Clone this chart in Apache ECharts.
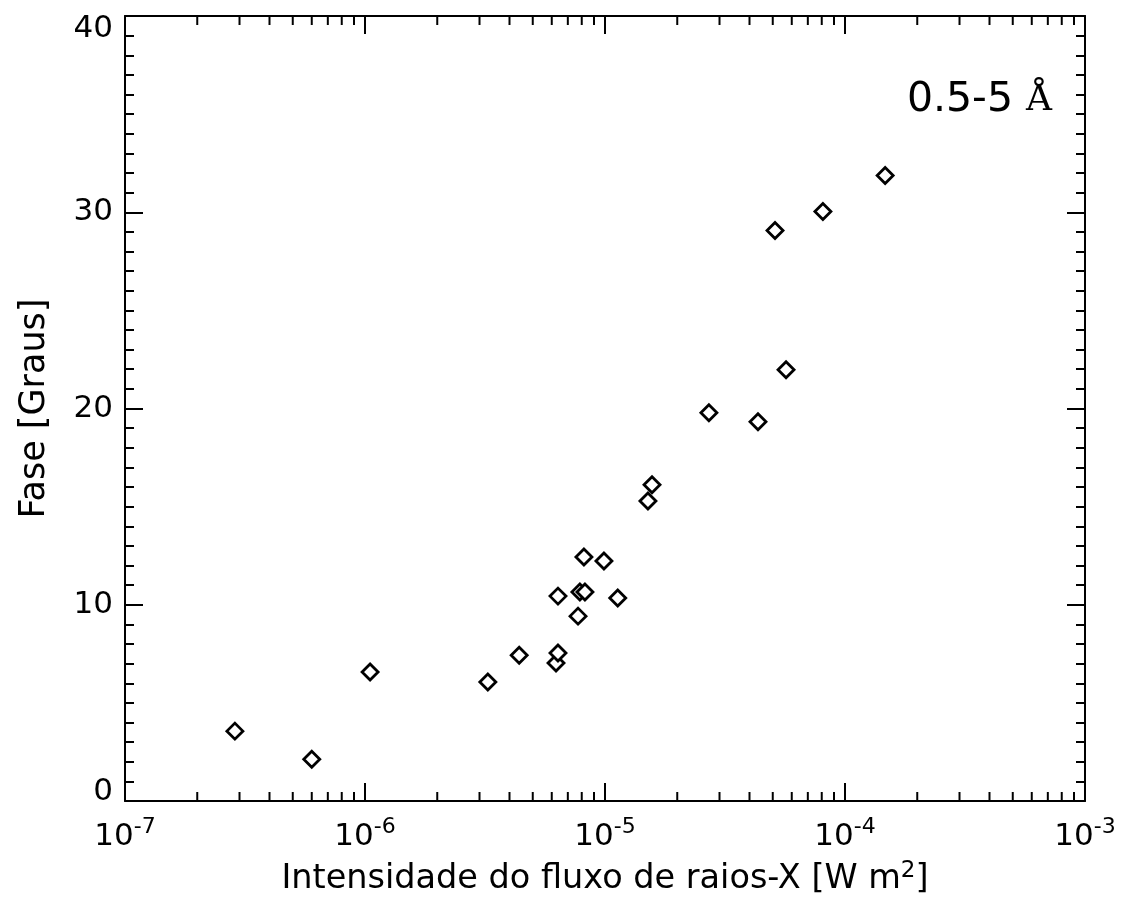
<!DOCTYPE html>
<html>
<head>
<meta charset="utf-8">
<script src="https://cdn.jsdelivr.net/npm/echarts@6/dist/echarts.min.js"></script>
<style>html,body{margin:0;padding:0;background:#fff;}#c{width:1125px;height:897px;}</style>
</head>
<body>
<div id="c"></div>
<script>
// Data (x: W m^-2, y: degrees)
const fluxValues = [2.87e-7, 6.0e-7, 1.05e-6, 3.25e-6, 4.39e-6, 6.25e-6, 6.37e-6, 6.37e-6, 7.72e-6, 7.86e-6, 8.25e-6, 8.17e-6, 9.9e-6, 1.13e-5, 1.51e-5, 1.57e-5, 2.71e-5, 4.34e-5, 5.68e-5, 5.11e-5, 8.09e-5, 1.47e-4];
const phaseValues = [3.56, 2.13, 6.57, 6.06, 7.43, 7.03, 7.54, 10.44, 9.42, 10.65, 10.65, 12.43, 12.23, 10.34, 15.29, 16.11, 19.78, 19.32, 21.97, 29.07, 30.04, 31.87];
const xDecades = [-7, -6, -5, -4, -3];
const yTicks = [0, 10, 20, 30, 40];
const xTitle = 'Intensidade do fluxo de raios-X [W m';
const xTitleSup = '2';
const yTitle = 'Fase [Graus]';
const bandLabel = '0.5-5';
const bandUnit = 'Å';

const xMin = Math.pow(10, xDecades[0]);
const xMax = Math.pow(10, xDecades[xDecades.length - 1]);
const yMin = yTicks[0], yMax = yTicks[yTicks.length - 1];

// minor tick values 2..9 per decade
const minorX = [];
for (let i = 0; i < xDecades.length - 1; i++) {
  for (let k = 2; k <= 9; k++) minorX.push([k * Math.pow(10, xDecades[i]), yMin]);
}

const INK = '#000';
const FONT = 'DejaVu Sans';
const lineStyle = { color: INK, width: 2 };

const xLabel = {
  formatter: function (v) { return '{b|10}{s|' + Math.round(Math.log10(v)) + '}'; },
  margin: 15,
  rich: {
    b: { fontFamily: FONT, fontSize: 31, color: INK },
    s: { fontFamily: FONT, fontSize: 22, color: INK, padding: [0, 0, 20, 0] }
  }
};

const chart = echarts.init(document.getElementById('c'), null, { renderer: 'canvas' });
chart.setOption({
  backgroundColor: '#fff',
  animation: false,
  title: {
    text: '{a|' + bandLabel + ' }{b|' + bandUnit + '}',
    right: 68, top: 75,
    textStyle: {
      fontWeight: 'normal',
      rich: {
        a: { fontFamily: FONT, fontSize: 41, fontWeight: 'normal', color: INK },
        b: { fontFamily: 'DejaVu Serif', fontSize: 36, fontWeight: 'normal', color: INK }
      }
    }
  },
  grid: { left: 125, right: 40, top: 16, bottom: 96, outerBoundsMode: 'none', containLabel: false },
  xAxis: [{
    type: 'log', logBase: 10, min: xMin, max: xMax, position: 'bottom',
    axisLine: { show: true, onZero: false, lineStyle: lineStyle },
    axisTick: { show: true, inside: true, length: 18, lineStyle: lineStyle },
    axisLabel: xLabel,
    splitLine: { show: false },
    name: '{t|' + xTitle + '}{s|' + xTitleSup + '}{t|]}',
    nameLocation: 'middle', nameGap: 59,
    nameTextStyle: {
      rich: {
        t: { fontFamily: FONT, fontSize: 33.5, color: INK },
        s: { fontFamily: FONT, fontSize: 23, color: INK, padding: [0, 0, 15, 0] }
      }
    }
  }, {
    type: 'log', logBase: 10, min: xMin, max: xMax, position: 'top',
    axisLine: { show: true, onZero: false, lineStyle: lineStyle },
    axisTick: { show: true, inside: true, length: 18, lineStyle: lineStyle },
    axisLabel: { show: false },
    splitLine: { show: false }
  }],
  yAxis: [{
    type: 'value', min: yMin, max: yMax, interval: 10, position: 'left',
    axisLine: { show: true, onZero: false, lineStyle: lineStyle },
    axisTick: { show: true, inside: true, length: 18, lineStyle: lineStyle },
    minorTick: { show: true, splitNumber: 10, length: 9, lineStyle: lineStyle },
    axisLabel: {
      fontFamily: FONT, fontSize: 31, color: INK, margin: 12,
      verticalAlignMaxLabel: 'top', verticalAlignMinLabel: 'bottom',
      formatter: function (v) {
        if (v === yMax) return '{hi|' + v + '}';
        if (v === yMin) return '{lo|' + v + '}';
        return String(v);
      },
      rich: {
        hi: { fontFamily: FONT, fontSize: 31, color: INK, lineHeight: 26 },
        lo: { fontFamily: FONT, fontSize: 31, color: INK, lineHeight: 18 }
      }
    },
    splitLine: { show: false },
    name: yTitle, nameLocation: 'middle', nameGap: 73,
    nameTextStyle: { fontFamily: FONT, fontSize: 35, color: INK }
  }, {
    type: 'value', min: yMin, max: yMax, interval: 10, position: 'right',
    axisLine: { show: true, onZero: false, lineStyle: lineStyle },
    axisTick: { show: true, inside: true, length: 18, lineStyle: lineStyle },
    minorTick: { show: true, splitNumber: 10, length: 9, lineStyle: lineStyle },
    axisLabel: { show: false },
    splitLine: { show: false }
  }],
  series: [{
    type: 'scatter',
    xAxisIndex: 0, yAxisIndex: 0,
    symbol: 'diamond', symbolSize: 16,
    itemStyle: { color: '#fff', borderColor: INK, borderWidth: 2.8, opacity: 1 },
    data: fluxValues.map((x, i) => [x, phaseValues[i]]),
    z: 5
  }, {
    type: 'custom',
    xAxisIndex: 0, yAxisIndex: 0,
    silent: true, clip: false,
    data: minorX,
    renderItem: function (params, api) {
      const v = api.value(0);
      const b = api.coord([v, yMin]);
      const t = api.coord([v, yMax]);
      return {
        type: 'group',
        children: [
          { type: 'line', shape: { x1: b[0], y1: b[1], x2: b[0], y2: b[1] - 9 }, style: { stroke: INK, lineWidth: 2 } },
          { type: 'line', shape: { x1: t[0], y1: t[1], x2: t[0], y2: t[1] + 9 }, style: { stroke: INK, lineWidth: 2 } }
        ]
      };
    },
    z: 3
  }]
});
</script>
</body>
</html>
